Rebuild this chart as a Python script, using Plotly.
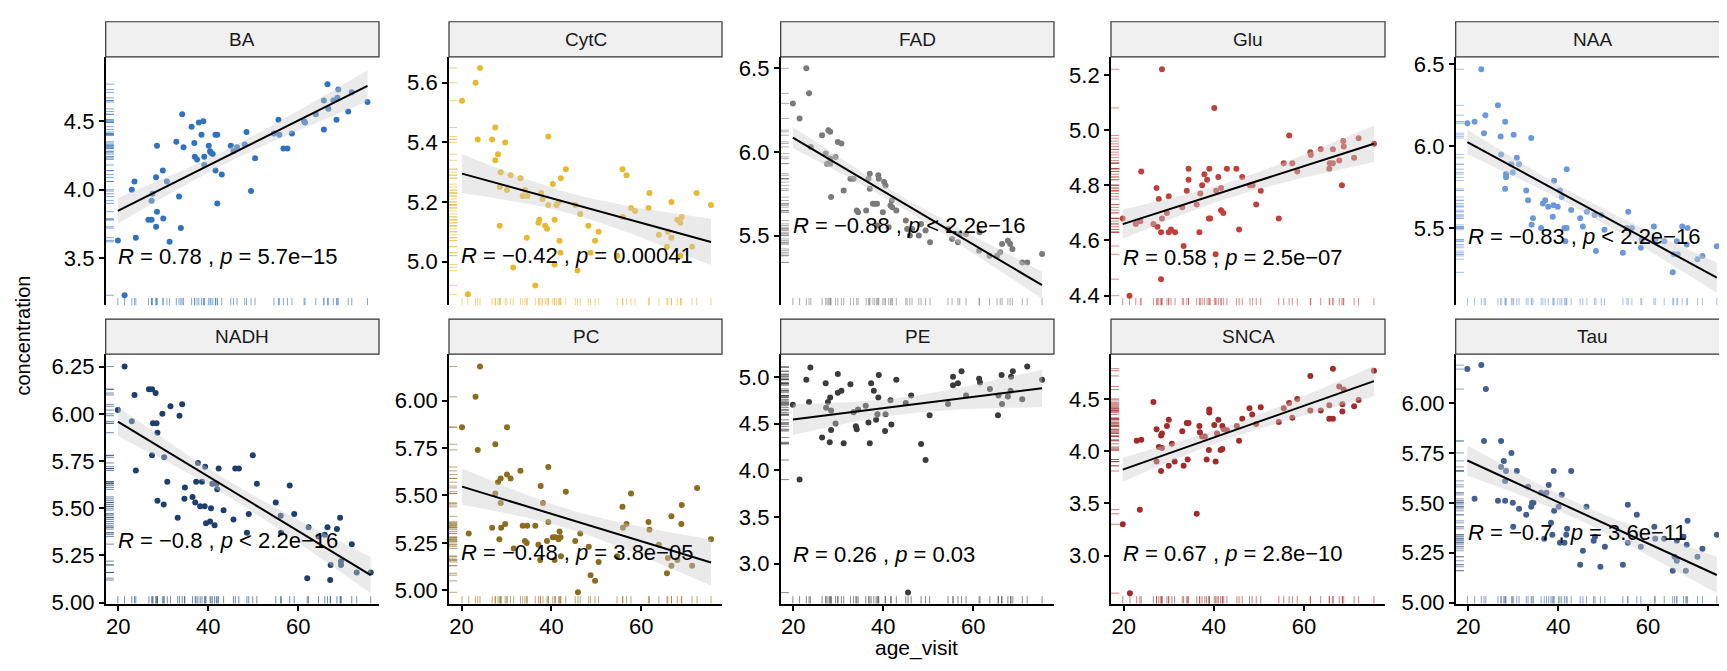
import numpy as np
import plotly.graph_objects as go

panels = ["BA", "CytC", "FAD", "Glu", "NAA", "NADH", "PC", "PE", "SNCA", "Tau"]

ba_age = [19.9, 21.4, 23.0, 23.6, 23.9, 26.7, 27.4, 27.4, 27.6, 28.4, 28.6, 28.6, 28.4, 29.9, 30.0, 30.8, 31.4, 32.9, 33.5, 33.9,
          34.2, 34.5, 36.3, 36.9, 37.0, 37.5, 37.9, 38.5, 38.9, 39.1, 39.1, 40.1, 40.4, 40.6, 41.0, 41.6, 42.0, 41.6, 42.0, 43.0,
          45.0, 45.6, 46.4, 48.1, 48.5, 49.5, 50.4, 54.6, 55.6, 55.8, 56.7, 57.6, 58.6, 61.3, 61.5, 63.9, 65.7, 65.7, 66.5, 66.7,
          67.8, 68.5, 68.7, 68.9, 71.1, 71.9, 75.4]
ba_value = [3.63, 3.23, 4.00, 4.06, 3.65, 3.78, 3.78, 3.92, 3.97, 4.09, 4.32, 3.84, 3.73, 4.14, 3.79, 4.06, 3.62, 4.35, 3.95, 3.72,
            4.55, 4.31, 4.46, 4.34, 4.24, 4.22, 4.49, 4.40, 4.50, 4.24, 4.18, 4.32, 4.28, 4.27, 4.26, 4.40, 4.40, 4.14, 3.90, 4.11,
            4.32, 4.28, 4.31, 4.33, 4.42, 3.99, 4.23, 4.41, 4.51, 4.40, 4.30, 4.30, 4.41, 4.50, 4.49, 4.55, 4.44, 4.65, 4.77, 4.59,
            4.65, 4.51, 4.67, 4.73, 4.57, 4.71, 4.64]

cytc_age = [20.1, 21.4, 23.1, 24.1, 23.6, 26.8, 27.5, 27.5, 28.1, 28.7, 28.5, 28.5, 29.7, 30.1, 30.9, 31.5, 33.1, 33.6, 34.1, 34.6,
            34.5, 36.4, 37.1, 37.3, 37.7, 38.0, 38.6, 39.0, 39.3, 39.3, 40.3, 40.7, 40.7, 41.1, 41.8, 42.0, 42.1, 41.6, 43.2, 45.3,
            45.8, 46.4, 48.2, 48.7, 49.7, 50.5, 54.6, 55.8, 55.9, 56.7, 57.7, 58.6, 61.6, 61.8, 63.9, 65.7, 65.9, 66.7, 66.7, 68.0,
            68.7, 69.0, 68.7, 71.3, 72.3, 75.5]
cytc_value = [5.54, 4.89, 5.60, 5.65, 5.41, 5.41, 5.45, 5.34, 5.36, 5.30, 5.25, 5.12, 5.40, 5.24, 5.29, 4.98, 5.28, 5.22, 5.24, 5.22,
              5.08, 4.92, 5.13, 5.14, 5.23, 5.21, 5.12, 5.11, 5.19, 5.42, 5.26, 5.14, 4.99, 5.19, 5.07, 5.03, 5.28, 5.20, 5.31, 5.19,
              4.97, 5.16, 5.12, 5.03, 5.07, 5.10, 5.02, 5.31, 5.15, 5.29, 5.18, 5.17, 5.18, 5.23, 5.09, 5.05, 5.10, 5.20, 5.08, 5.14,
              5.13, 5.15, 5.02, 5.05, 5.23, 5.19]

fad_age = [19.9, 21.4, 22.9, 23.5, 23.9, 26.4, 27.8, 28.2, 27.2, 27.5, 28.2, 28.2, 29.4, 28.4, 29.9, 30.7, 31.2, 32.7, 33.4, 34.1,
           34.4, 36.2, 36.7, 37.0, 37.0, 37.7, 38.1, 38.6, 38.6, 38.9, 39.0, 39.9, 40.2, 40.5, 41.2, 41.6, 41.9, 42.0, 42.9, 45.0,
           45.3, 45.9, 46.4, 47.9, 48.4, 49.4, 50.4, 54.4, 55.3, 56.6, 57.0, 58.4, 61.4, 61.3, 63.6, 65.3, 66.0, 66.4, 67.7, 68.2,
           68.7, 70.9, 72.0, 75.3]
fad_value = [6.29, 6.20, 6.50, 6.35, 6.03, 6.10, 6.13, 6.12, 5.99, 5.93, 5.96, 5.93, 5.97, 5.73, 6.06, 6.05, 5.77, 5.84, 5.84, 5.65,
             5.64, 5.65, 5.84, 5.78, 5.87, 5.69, 5.69, 5.69, 5.56, 5.86, 5.84, 5.64, 5.82, 5.80, 5.55, 5.68, 5.71, 5.67, 5.65, 5.59,
             5.54, 5.50, 5.54, 5.50, 5.57, 5.53, 5.46, 5.54, 5.48, 5.46, 5.51, 5.51, 5.52, 5.41, 5.38, 5.38, 5.40, 5.45, 5.47, 5.45,
             5.42, 5.34, 5.34, 5.39]

glu_age = [19.8, 21.3, 22.7, 23.7, 23.9, 26.6, 27.3, 27.5, 27.8, 28.3, 28.3, 28.5, 28.5, 29.6, 30.0, 30.0, 30.5, 31.4, 33.0, 33.3,
           34.0, 34.4, 34.4, 36.2, 36.8, 37.0, 37.4, 37.9, 38.5, 38.9, 39.2, 39.0, 40.1, 40.4, 40.5, 41.0, 41.6, 41.6, 42.1, 42.9,
           45.0, 45.6, 46.3, 48.0, 48.6, 49.4, 50.4, 54.4, 55.5, 56.7, 57.4, 58.5, 61.4, 61.5, 63.7, 65.6, 65.7, 66.4, 66.4, 67.8,
           68.4, 68.7, 68.8, 71.1, 72.1, 75.5]
glu_value = [4.68, 4.40, 4.66, 4.67, 4.85, 4.66, 4.79, 4.65, 4.75, 4.46, 4.63, 4.68, 5.22, 4.70, 4.76, 4.63, 4.64, 4.63, 4.72, 4.58,
             4.78, 4.82, 4.86, 4.73, 4.63, 4.77, 4.80, 4.84, 4.82, 4.68, 4.68, 4.86, 5.08, 4.55, 4.78, 4.83, 4.79, 4.71, 4.70, 4.86,
             4.86, 4.64, 4.83, 4.80, 4.80, 4.73, 4.78, 4.68, 4.88, 4.98, 4.88, 4.85, 4.92, 4.91, 4.93, 4.86, 4.88, 4.93, 4.88, 4.89,
             4.80, 4.96, 4.94, 4.90, 4.97, 4.95]

naa_age = [19.8, 21.4, 22.9, 23.5, 23.8, 26.6, 27.2, 27.3, 28.2, 28.2, 28.4, 28.4, 29.6, 29.9, 30.1, 30.8, 31.3, 32.9, 33.3, 34.0,
           34.4, 34.1, 36.2, 36.6, 37.1, 37.8, 38.8, 39.0, 39.1, 39.9, 40.4, 40.8, 41.4, 41.9, 41.6, 41.9, 42.9, 44.9, 45.5, 46.4,
           48.4, 48.1, 49.6, 50.3, 54.4, 55.3, 55.6, 56.4, 58.4, 58.6, 61.3, 61.6, 63.6, 65.5, 65.7, 66.4, 66.6, 67.6, 68.6, 68.8,
           71.0, 72.1, 75.3]
naa_value = [6.14, 6.15, 6.47, 6.08, 6.19, 6.25, 6.06, 5.95, 6.15, 5.74, 5.83, 5.81, 5.89, 5.84, 6.07, 5.93, 5.89, 5.73, 5.67, 6.05,
             5.56, 5.52, 5.50, 5.65, 5.67, 5.63, 5.57, 5.64, 5.79, 5.63, 5.73, 5.69, 5.50, 5.86, 5.42, 5.50, 5.61, 5.56, 5.51, 5.60,
             5.36, 5.58, 5.58, 5.49, 5.35, 5.50, 5.60, 5.50, 5.38, 5.43, 5.51, 5.43, 5.42, 5.23, 5.34, 5.42, 5.34, 5.51, 5.40, 5.50,
             5.31, 5.33, 5.39]

nadh_age = [19.9, 21.4, 23.0, 23.6, 23.9, 26.8, 27.5, 28.3, 27.5, 27.7, 28.5, 28.7, 28.7, 29.8, 30.2, 30.1, 30.9, 31.6, 33.2, 33.6,
            34.2, 34.7, 34.8, 36.5, 37.1, 37.7, 37.3, 38.2, 38.6, 39.3, 39.2, 39.5, 40.6, 40.4, 40.9, 41.4, 41.8, 42.0, 42.3, 43.4,
            45.6, 46.0, 46.8, 48.6, 49.0, 49.9, 50.8, 55.0, 56.1, 56.2, 58.1, 59.1, 62.0, 62.3, 64.5, 65.9, 66.5, 67.2, 67.1, 68.6,
            69.3, 69.5, 69.5, 71.9, 73.0, 76.1]
nadh_value = [6.02, 6.25, 5.96, 6.10, 5.70, 6.13, 6.13, 6.11, 5.78, 5.95, 5.95, 5.90, 5.54, 6.00, 5.77, 5.52, 5.64, 6.04, 5.45, 5.99,
              6.05, 5.55, 5.61, 5.56, 5.53, 5.74, 5.64, 5.51, 5.64, 5.72, 5.51, 5.42, 5.50, 5.43, 5.63, 5.41, 5.63, 5.60, 5.71, 5.49,
              5.44, 5.71, 5.71, 5.37, 5.47, 5.78, 5.63, 5.53, 5.46, 5.37, 5.62, 5.47, 5.13, 5.40, 5.35, 5.36, 5.40, 5.20, 5.12, 5.39,
              5.45, 5.22, 5.20, 5.31, 5.16, 5.16]

pc_age = [20.1, 21.6, 23.1, 24.1, 23.6, 26.8, 27.5, 27.5, 28.1, 28.4, 28.7, 28.7, 28.8, 29.7, 30.1, 30.1, 30.9, 31.6, 33.1, 33.6,
          34.1, 34.6, 34.5, 36.4, 37.1, 37.5, 37.6, 38.1, 39.0, 39.3, 39.3, 40.3, 40.7, 40.9, 41.6, 41.8, 42.0, 42.1, 43.2, 45.3,
          45.9, 46.4, 48.3, 48.7, 49.7, 50.5, 54.6, 55.8, 55.9, 56.7, 57.7, 61.6, 61.8, 63.9, 65.7, 65.9, 66.7, 66.7, 68.0, 68.9,
          69.0, 71.3, 72.4, 75.5]
pc_value = [5.86, 5.30, 6.02, 6.18, 5.74, 5.33, 5.77, 5.51, 5.57, 5.27, 5.59, 5.46, 5.33, 5.35, 5.61, 5.86, 5.59, 5.22, 5.63, 5.34,
            5.26, 5.34, 5.25, 5.34, 5.24, 5.16, 5.55, 5.46, 5.26, 5.65, 5.36, 5.28, 5.16, 5.28, 5.27, 5.31, 5.28, 5.18, 5.52, 5.26,
            4.99, 5.30, 5.23, 5.08, 5.05, 5.15, 5.18, 5.44, 5.33, 5.35, 5.51, 5.36, 5.32, 5.24, 5.09, 5.17, 5.39, 5.13, 5.16, 5.35,
            5.45, 5.13, 5.54, 5.27]

pe_age = [19.9, 21.4, 22.9, 23.5, 23.8, 26.4, 27.2, 27.3, 27.7, 28.2, 28.1, 28.4, 28.4, 29.4, 29.9, 29.9, 30.7, 31.2, 32.7, 33.4,
          33.9, 34.1, 34.4, 36.1, 36.7, 37.0, 37.3, 37.9, 38.4, 38.7, 38.9, 39.0, 40.4, 40.5, 41.6, 41.8, 42.9, 45.0, 45.5, 46.2,
          48.4, 49.4, 50.3, 54.4, 55.5, 55.5, 56.6, 57.4, 58.4, 61.3, 61.5, 63.7, 65.5, 65.6, 66.3, 66.4, 67.7, 68.4, 68.8, 68.3,
          70.9, 72.0, 75.3]
pe_value = [4.70, 3.90, 4.97, 4.73, 5.10, 4.35, 4.93, 4.67, 4.73, 4.78, 4.30, 4.43, 4.64, 4.50, 5.03, 4.83, 4.85, 4.29, 4.92, 4.62,
            4.47, 4.44, 4.65, 4.69, 4.51, 4.29, 4.93, 4.85, 4.54, 4.60, 4.78, 5.02, 4.42, 4.60, 4.75, 4.49, 4.97, 4.72, 2.69, 4.80,
            4.28, 4.11, 4.59, 4.71, 5.00, 4.91, 4.93, 5.06, 4.80, 4.98, 4.94, 4.87, 4.59, 4.80, 5.02, 4.71, 4.79, 5.00, 5.06, 4.85,
            4.76, 5.11, 4.97]

snca_age = [19.8, 21.4, 22.9, 23.6, 23.9, 26.6, 27.3, 27.3, 27.8, 28.3, 28.5, 28.3, 28.5, 29.6, 30.0, 30.0, 30.7, 31.3, 33.0, 33.3,
            34.0, 34.4, 34.2, 36.2, 36.8, 36.9, 37.4, 38.0, 38.4, 38.9, 39.0, 39.0, 40.1, 40.4, 40.7, 41.0, 41.5, 41.9, 41.9, 42.2,
            42.9, 45.1, 45.6, 46.3, 47.9, 48.5, 49.4, 50.4, 54.4, 55.5, 56.7, 57.4, 58.5, 61.4, 61.4, 63.7, 65.6, 65.6, 66.4, 66.4,
            67.8, 68.5, 68.5, 68.8, 71.1, 72.1, 75.5]
snca_value = [3.30, 2.64, 4.10, 3.44, 4.11, 4.47, 4.21, 3.90, 4.04, 4.15, 4.17, 3.81, 4.03, 4.24, 4.30, 3.86, 4.07, 3.90, 4.19, 3.86,
              4.27, 4.27, 3.92, 3.40, 4.24, 4.18, 4.14, 4.14, 3.92, 4.01, 4.40, 4.37, 4.25, 3.90, 4.17, 4.30, 4.01, 4.02, 4.24, 4.21,
              4.20, 4.24, 4.10, 4.31, 4.41, 4.35, 4.26, 4.42, 4.28, 4.41, 4.46, 4.32, 4.50, 4.72, 4.39, 4.39, 4.44, 4.31, 4.31, 4.79,
              4.62, 4.38, 4.45, 4.59, 4.43, 4.49, 4.77]

tau_age = [19.8, 21.4, 22.9, 23.5, 23.9, 26.6, 27.3, 27.3, 27.9, 28.2, 28.4, 28.2, 29.6, 29.9, 30.0, 30.8, 31.3, 32.9, 33.3, 34.0,
           34.2, 34.5, 36.2, 36.9, 37.4, 37.9, 38.4, 38.7, 39.0, 39.1, 40.1, 40.4, 40.8, 41.4, 41.8, 42.0, 42.9, 44.9, 45.5, 46.3,
           47.9, 48.2, 49.4, 50.4, 54.4, 55.5, 55.5, 57.5, 58.4, 61.4, 61.6, 63.6, 65.5, 65.9, 66.4, 66.4, 67.9, 68.4, 68.6, 68.8,
           71.0, 72.1, 75.3]
tau_value = [6.17, 5.52, 6.19, 5.81, 6.07, 5.51, 5.81, 5.68, 5.71, 5.51, 5.66, 5.61, 5.75, 5.50, 5.38, 5.66, 5.47, 5.44, 5.58, 5.48,
             5.50, 5.50, 5.55, 5.32, 5.55, 5.59, 5.40, 5.34, 5.66, 5.46, 5.48, 5.30, 5.54, 5.30, 5.34, 5.37, 5.66, 5.19, 5.26, 5.48,
             5.31, 5.33, 5.18, 5.28, 5.19, 5.49, 5.30, 5.44, 5.28, 5.38, 5.32, 5.32, 5.16, 5.23, 5.21, 5.31, 5.33, 5.16, 5.29, 5.41,
             5.23, 5.27, 5.34]

stat_labels = [
    "<i>R</i> = 0.78 , <i>p</i> = 5.7e−15",
    "<i>R</i> = −0.42 , <i>p</i> = 0.00041",
    "<i>R</i> = −0.88 , <i>p</i> &lt; 2.2e−16",
    "<i>R</i> = 0.58 , <i>p</i> = 2.5e−07",
    "<i>R</i> = −0.83 , <i>p</i> &lt; 2.2e−16",
    "<i>R</i> = −0.8 , <i>p</i> &lt; 2.2e−16",
    "<i>R</i> = −0.48 , <i>p</i> = 3.8e−05",
    "<i>R</i> = 0.26 , <i>p</i> = 0.03",
    "<i>R</i> = 0.67 , <i>p</i> = 2.8e−10",
    "<i>R</i> = −0.7 , <i>p</i> = 3.6e−11",
]

ages = [ba_age, cytc_age, fad_age, glu_age, naa_age, nadh_age, pc_age, pe_age, snca_age, tau_age]
values = [ba_value, cytc_value, fad_value, glu_value, naa_value, nadh_value, pc_value, pe_value, snca_value, tau_value]

# ---- styling / layout (not data) ----
colors = ["#2f72bd", "#e8b92f", "#7a7a7a", "#c0413b", "#6b98dc",
          "#1d3f6e", "#8c6d1f", "#3b3b3b", "#a32b2b", "#425f8f"]
y_ranges = [[3.156, 4.969], [4.853, 5.687], [5.083, 6.568], [4.365, 5.265], [5.028, 6.546],
            [4.995, 6.316], [4.930, 6.245], [2.572, 5.243], [2.540, 4.929], [4.995, 6.245]]
y_dticks = [0.5, 0.2, 0.5, 0.2, 0.5, 0.25, 0.25, 0.5, 0.5, 0.25]
y_formats = [".1f", ".1f", ".1f", ".1f", ".1f", ".2f", ".2f", ".1f", ".1f", ".2f"]
label_y = [3.51, 5.02, 5.56, 4.54, 5.45, 5.33, 5.20, 3.10, 3.02, 5.35]
x_range = [17.2, 77.95]

W, H = 1727, 671
col_px = [(97.7, 371.0), (441.0, 714.0), (772.7, 1046.0), (1103.0, 1377.0), (1447.7, 1720.7)]
row_px = [(45.0, 300.0), (350.0, 606.0)]
strip_px = [(9.0, 45.0), (314.0, 350.0)]
FONT = "Liberation Sans, Arial, Helvetica, sans-serif"

def hex_rgba(h, a):
    h = h.lstrip("#")
    return "rgba(%d,%d,%d,%.2f)" % (int(h[0:2], 16), int(h[2:4], 16), int(h[4:6], 16), a)

fig = go.Figure()
layout = dict(
    width=W, height=H, margin=dict(l=0, r=0, t=0, b=0),
    paper_bgcolor="white", plot_bgcolor="white", showlegend=False,
    font=dict(family=FONT, color="black"),
)
shapes = []
annotations = []

for i, name in enumerate(panels):
    k = i + 1
    r, c = divmod(i, 5)
    xa = "x" if k == 1 else "x%d" % k
    ya = "y" if k == 1 else "y%d" % k
    x = np.array(ages[i], dtype=float)
    y = np.array(values[i], dtype=float)
    col = colors[i]
    y0, y1 = y_ranges[i]

    # rugs
    rx, ry = [], []
    for a in x:
        rx += [a, a, None]
        ry += [y0, y0 + 0.03 * (y1 - y0), None]
    fig.add_trace(go.Scatter(x=rx, y=ry, mode="lines", xaxis=xa, yaxis=ya,
                             line=dict(color=hex_rgba(col, 0.6), width=1), hoverinfo="skip"))
    rx, ry = [], []
    for v in y:
        rx += [x_range[0], x_range[0] + 0.03 * (x_range[1] - x_range[0]), None]
        ry += [v, v, None]
    fig.add_trace(go.Scatter(x=rx, y=ry, mode="lines", xaxis=xa, yaxis=ya,
                             line=dict(color=hex_rgba(col, 0.6), width=1), hoverinfo="skip"))

    # points
    fig.add_trace(go.Scatter(x=x, y=y, mode="markers", xaxis=xa, yaxis=ya,
                             marker=dict(color=col, size=6, line=dict(width=0))))

    # linear fit with 95% CI
    n = len(x)
    slope, intercept = np.polyfit(x, y, 1)
    xm = x.mean()
    sxx = ((x - xm) ** 2).sum()
    resid = y - (slope * x + intercept)
    s = np.sqrt((resid ** 2).sum() / (n - 2))
    grid = np.linspace(x.min(), x.max(), 80)
    fit = slope * grid + intercept
    se = s * np.sqrt(1.0 / n + (grid - xm) ** 2 / sxx)
    tq = 1.998
    upper, lower = fit + tq * se, fit - tq * se
    fig.add_trace(go.Scatter(x=np.concatenate([grid, grid[::-1]]),
                             y=np.concatenate([upper, lower[::-1]]),
                             mode="lines", fill="toself", xaxis=xa, yaxis=ya,
                             fillcolor="rgba(205,205,205,0.42)", line=dict(width=0),
                             hoverinfo="skip"))
    fig.add_trace(go.Scatter(x=grid, y=fit, mode="lines", xaxis=xa, yaxis=ya,
                             line=dict(color="black", width=2)))

    xd = [col_px[c][0] / W, col_px[c][1] / W]
    yd = [1 - row_px[r][1] / H, 1 - row_px[r][0] / H]
    bottom = (r == 1)
    layout["xaxis" if k == 1 else "xaxis%d" % k] = dict(
        domain=xd, anchor=ya, range=x_range, showgrid=False, zeroline=False,
        tickvals=[20, 40, 60], showticklabels=bottom, ticks="outside" if bottom else "",
        ticklen=5, tickwidth=1.5, tickcolor="black", ticklabelstandoff=-3,
        showline=bottom, linecolor="black", linewidth=1.8,
        tickfont=dict(size=22, color="black", family=FONT),
    )
    layout["yaxis" if k == 1 else "yaxis%d" % k] = dict(
        domain=yd, anchor=xa, range=[y0, y1], showgrid=False, zeroline=False,
        tick0=0, dtick=y_dticks[i], tickformat=y_formats[i],
        ticks="outside", ticklen=5, tickwidth=1.5, tickcolor="black",
        showline=True, linecolor="black", linewidth=1.8,
        tickfont=dict(size=22, color="black", family=FONT),
    )

    # strip
    sy = [1 - strip_px[r][1] / H, 1 - strip_px[r][0] / H]
    shapes.append(dict(type="rect", xref="paper", yref="paper", x0=xd[0], x1=xd[1], y0=sy[0], y1=sy[1],
                       fillcolor="#f0f0f0", line=dict(color="#333333", width=1.2), layer="above"))
    annotations.append(dict(xref="paper", yref="paper", x=(xd[0] + xd[1]) / 2, y=(sy[0] + sy[1]) / 2,
                            text=name, showarrow=False, xanchor="center", yanchor="middle",
                            font=dict(size=19, color="#1a1a1a", family=FONT)))
    # stat label
    annotations.append(dict(xref=xa, yref=ya, x=19.7, y=label_y[i], text=stat_labels[i],
                            showarrow=False, xanchor="left", yanchor="middle", borderpad=0,
                            font=dict(size=22, color="black", family=FONT)))

annotations.append(dict(xref="paper", yref="paper", x=15 / W, y=1 - 331 / H, text="concentration",
                        textangle=-90, showarrow=False, xanchor="center", yanchor="middle",
                        font=dict(size=20, color="black", family=FONT)))
annotations.append(dict(xref="paper", yref="paper", x=908 / W, y=1 - 652 / H, text="age_visit",
                        showarrow=False, xanchor="center", yanchor="middle",
                        font=dict(size=21, color="black", family=FONT)))

layout["shapes"] = shapes
layout["annotations"] = annotations
fig.update_layout(**layout)
fig.write_html("out.html")
